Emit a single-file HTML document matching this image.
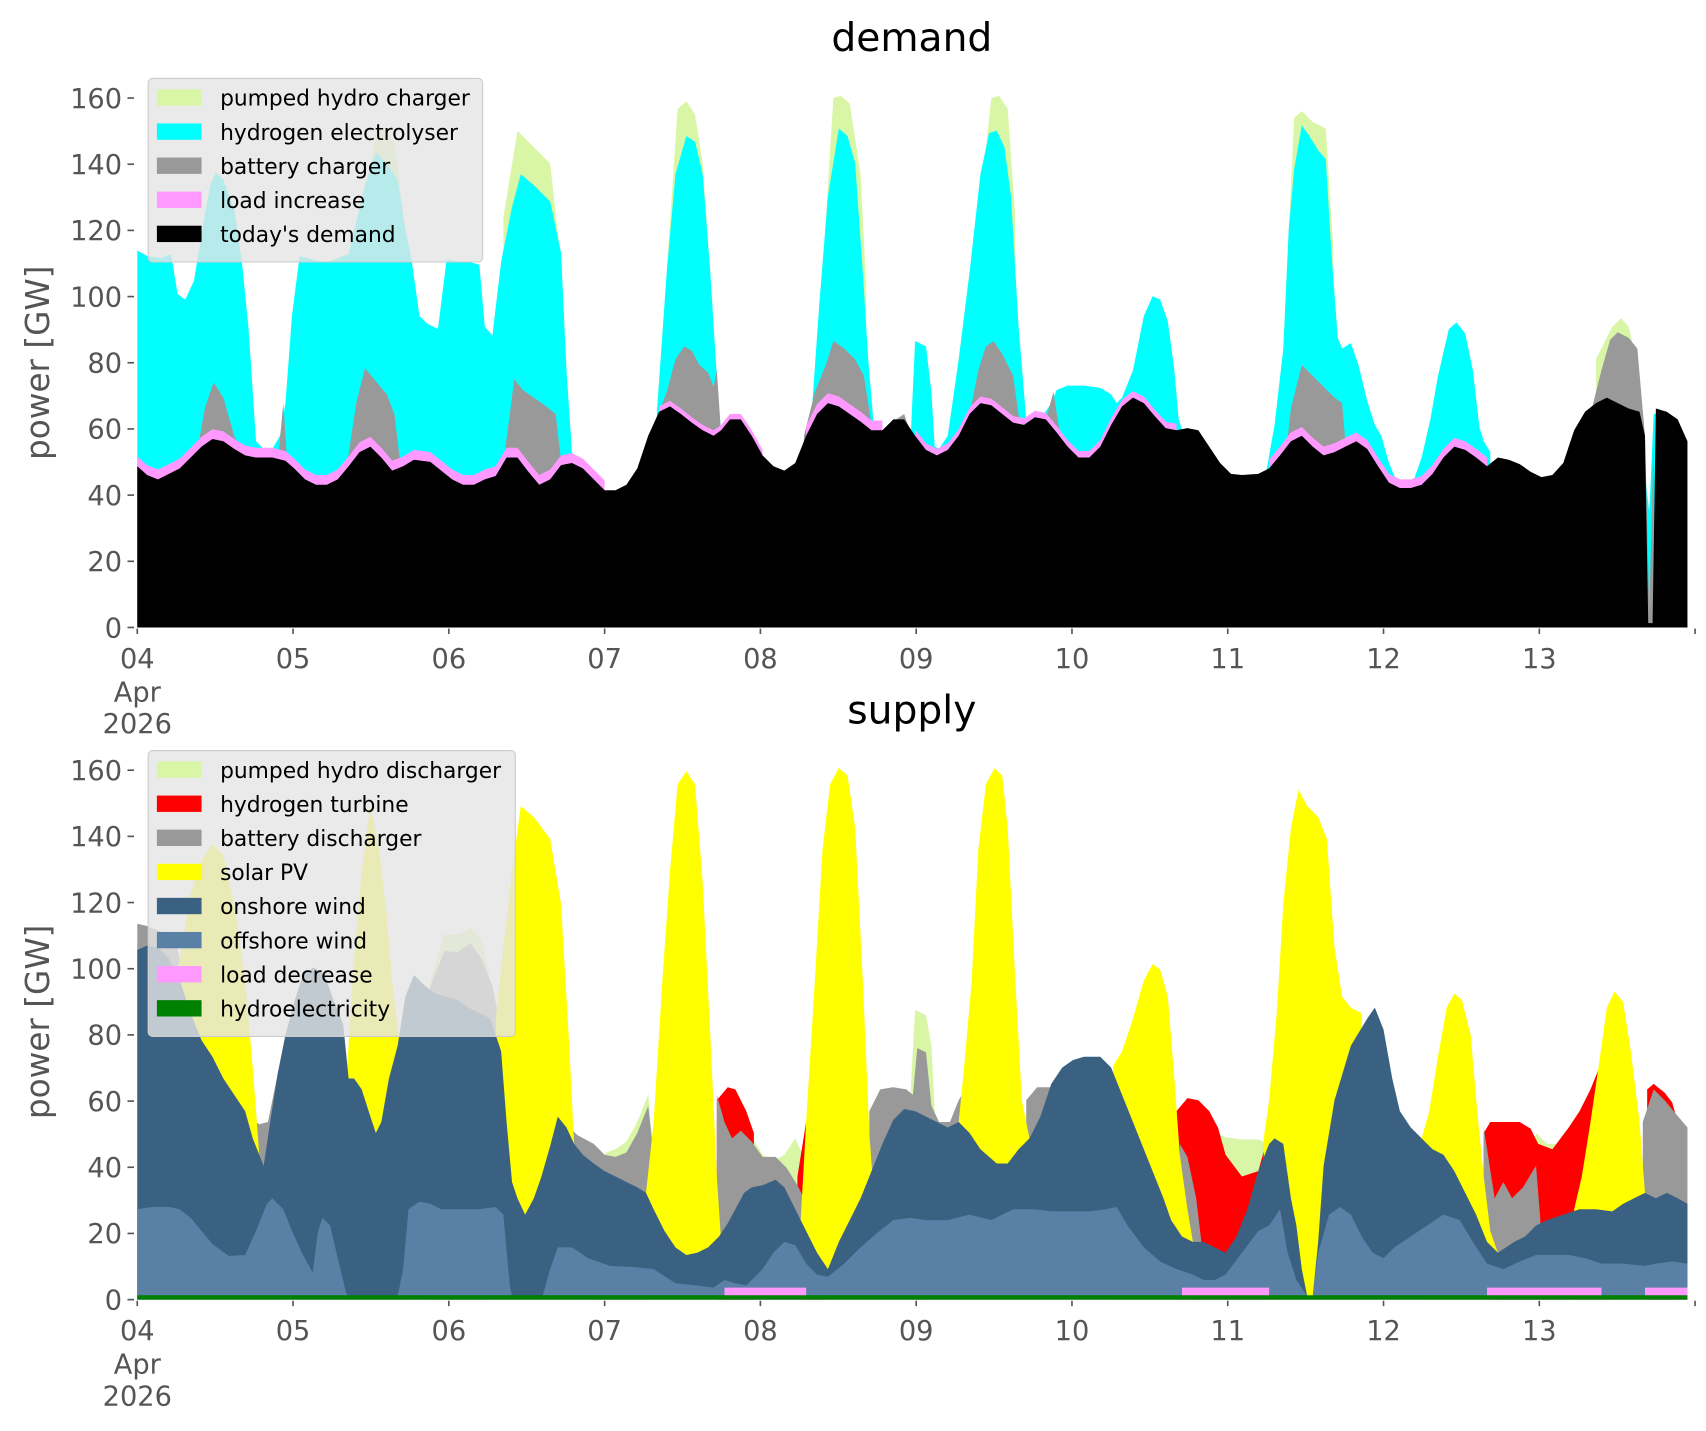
<!DOCTYPE html>
<html><head><meta charset="utf-8"><style>html,body{margin:0;padding:0;background:#fff}svg{display:block}</style></head>
<body>
<svg id="s" xmlns="http://www.w3.org/2000/svg" width="1706" height="1431" viewBox="0 0 1566 1313.6" font-family="DejaVu Sans, Liberation Sans, sans-serif">
<rect width="1566" height="1314" fill="#fff"/>
<g id="top"></g><g id="bot"></g>
<g id="axes" fill="#555" font-size="25"></g>
<text x="837" y="47" font-size="36" text-anchor="middle" fill="#000">demand</text>
<text x="837" y="664" font-size="36" text-anchor="middle" fill="#000">supply</text>
<text transform="translate(45,333) rotate(-90)" font-size="30" text-anchor="middle" fill="#555">power [GW]</text>
<text transform="translate(45,938) rotate(-90)" font-size="30" text-anchor="middle" fill="#555">power [GW]</text>
<g id="leg"></g>
</svg>
<script>
const NS="http://www.w3.org/2000/svg";
function poly(g,pts,base,fill){const p=document.createElementNS(NS,"polygon");
 const a=[[pts[0][0],base],...pts,[pts[pts.length-1][0],base]];
 p.setAttribute("points",a.map(q=>q[0]+","+q[1]).join(" "));p.setAttribute("fill",fill);g.appendChild(p);}
const T=document.getElementById("top"),B=document.getElementById("bot");
const TB=576,BB=1193;
const C={ph:"#d9f6a6",cy:"#00ffff",gr:"#999999",pk:"#ff99ff",bk:"#000",on:"#3b6182",off:"#5a80a5",ye:"#ffff00",rd:"#ff0000",gn:"#008000"};
// ---- TOP ----
const D=[[126,428],[135,436],[145,440],[155,435],[165,430],[175,420],[185,410],[195,403],[205,405],[215,412],[225,418],[235,420],[250,420],[262,423],[270,430],[280,440],[290,445],[300,445],[310,440],[320,428],[330,415],[340,410],[350,420],[360,432],[370,428],[380,422],[395,424],[405,432],[415,440],[425,445],[435,445],[445,440],[455,437],[465,420],[475,420],[485,433],[495,445],[505,440],[515,427],[525,425],[535,430],[545,440],[555,450],[565,450],[575,445],[585,430],[595,400],[605,378],[615,373],[625,380],[635,388],[645,395],[655,400],[662,395],[670,385],[680,385],[690,400],[700,418],[710,428],[720,432],[730,425],[740,400],[750,380],[760,370],[770,373],[780,380],[790,387],[800,395],[810,395],[820,385],[830,385],[840,400],[850,413],[860,418],[870,413],[880,400],[890,380],[900,370],[910,372],[920,380],[930,388],[940,390],[950,383],[960,385],[970,397],[980,410],[990,420],[1000,420],[1010,410],[1020,390],[1030,373],[1040,365],[1050,370],[1060,382],[1070,393],[1080,395],[1090,393],[1100,395],[1110,410],[1120,425],[1130,435],[1140,436],[1155,435],[1165,430],[1175,418],[1185,405],[1195,400],[1205,410],[1215,418],[1225,415],[1235,410],[1245,405],[1255,412],[1265,428],[1275,443],[1285,448],[1295,448],[1305,445],[1315,435],[1325,420],[1335,410],[1345,413],[1355,420],[1365,428],[1375,420],[1385,422],[1395,426],[1405,433],[1415,438],[1425,436],[1435,425],[1445,395],[1455,378],[1465,370],[1475,365],[1485,370],[1495,375],[1505,378],[1510,400],[1513,572],[1517,572],[1520,375],[1530,378],[1540,385],[1549,405]];
const PHt=[
[[612,250],[622,100],[630,93],[638,105],[645,150],[652,250]],
[[755,250],[765,90],[772,88],[780,95],[790,160],[795,260]],
[[898,200],[910,90],[917,88],[925,100],[932,200]],
[[1178,320],[1188,108],[1195,102],[1205,112],[1217,118],[1224,230]],
[[330,230],[345,120],[352,118],[362,130],[372,210]],
[[462,200],[475,120],[490,135],[505,150],[515,240]],
[[1465,330],[1480,300],[1488,292],[1495,300],[1502,330]]];
const CY=[
[[126,230],[135,235],[148,237],[157,233],[163,270],[170,275],[178,258],[185,215],[193,170],[198,158],[205,165],[215,192],[222,240],[228,300],[235,405],[242,412],[250,412],[257,400],[262,370],[268,290],[275,235],[290,239],[300,241],[320,233],[335,170],[345,140],[355,150],[365,165],[372,210],[378,240],[385,290],[392,297],[402,302],[410,238],[420,240],[430,240],[440,243],[445,300],[452,308],[460,240],[470,190],[478,160],[490,170],[505,185],[515,232],[520,340],[525,415],[530,425]],
[[603,378],[612,250],[620,160],[630,125],[638,130],[645,160],[652,250],[657,330],[662,400]],
[[745,380],[752,280],[760,180],[770,118],[778,125],[785,150],[792,250],[797,330],[802,390]],
[[836,400],[840,313],[850,318],[855,360],[858,410],[862,412],[870,400],[880,330],[890,250],[900,160],[908,122],[915,120],[922,135],[928,180],[935,300],[942,385]],
[[955,385],[965,370],[970,358],[980,354],[995,354],[1010,356],[1020,362],[1025,370],[1030,365],[1040,340],[1050,290],[1058,272],[1065,275],[1072,295],[1078,340],[1082,385],[1086,398]],
[[1162,435],[1170,390],[1178,320],[1183,210],[1188,155],[1195,115],[1202,125],[1210,138],[1217,146],[1222,230],[1228,310],[1232,320],[1240,315],[1247,335],[1255,368],[1262,390],[1268,400],[1275,425],[1280,437],[1290,445],[1298,440],[1305,420],[1313,385],[1320,345],[1330,302],[1337,296],[1345,306],[1352,340],[1358,392],[1362,405],[1368,415]],
[[1508,420],[1514,470],[1518,380],[1522,380]]];
const GRt=[
[[180,420],[188,375],[196,351],[205,365],[215,400],[225,420]],
[[255,425],[260,370],[264,430]],
[[318,430],[327,370],[335,338],[345,350],[355,362],[362,380],[368,430]],
[[462,425],[468,380],[472,348],[480,358],[490,365],[500,372],[510,380],[517,440]],
[[605,378],[612,360],[620,330],[628,318],[635,322],[642,335],[650,342],[655,355],[658,340],[662,400]],
[[738,400],[748,360],[758,335],[765,313],[775,320],[785,330],[793,345],[800,390]],
[[815,390],[830,380],[840,410]],
[[890,380],[898,340],[905,318],[912,313],[920,325],[930,345],[936,388]],
[[960,385],[967,360],[972,392]],
[[1180,420],[1185,375],[1195,335],[1205,345],[1215,355],[1225,365],[1232,370],[1237,430]],
[[1440,410],[1460,380],[1470,340],[1478,312],[1485,305],[1495,310],[1503,320],[1510,400]],
[[1510,400],[1514,560],[1518,400]]];
const pkR=[[126,560,9],[603,700,5],[735,812,9],[838,1085,6],[1160,1368,8]];
PHt.forEach(s=>poly(T,s,TB,C.ph));
CY.forEach(s=>poly(T,s,TB,C.cy));
GRt.forEach(s=>poly(T,s,TB,C.gr));
pkR.forEach(r=>{const s=D.filter(p=>p[0]>=r[0]&&p[0]<=r[1]).map(p=>[p[0],p[1]-r[2]]);poly(T,s,TB,C.pk);});
poly(T,D,TB,C.bk);
// ---- BOTTOM ----
const PHb=[
[[538,1060],[548,1082],[556,1058],[565,1055],[575,1048],[585,1030],[595,1005],[600,1060]],
[[688,1040],[700,1060],[710,1066],[720,1060],[730,1045],[737,1060]],
[[836,1000],[840,927],[850,932],[855,960],[858,1020]],
[[1118,1040],[1125,1044],[1140,1046],[1155,1046],[1165,1050]],
[[1410,1040],[1420,1050],[1432,1050],[1438,1040]],
[[395,900],[408,858],[420,858],[432,852],[442,862],[450,900]]];
const RD=[
[[658,1010],[668,998],[675,1000],[685,1020],[692,1040]],
[[732,1080],[740,1030],[746,1005],[756,988],[760,1060]],
[[1080,1020],[1090,1008],[1100,1010],[1110,1020],[1118,1035],[1125,1060],[1140,1080],[1155,1075],[1162,1050],[1165,1100]],
[[1362,1040],[1368,1030],[1380,1030],[1395,1030],[1405,1036],[1412,1050],[1425,1055],[1440,1035],[1450,1020],[1460,1000],[1468,980],[1475,970]],
[[1512,1000],[1518,995],[1528,1003],[1535,1012],[1540,1030]]];
const GRb=[
[[126,848],[135,850],[150,856],[160,858],[165,880]],
[[228,1025],[238,1032],[246,1030],[252,1000],[256,980]],
[[395,905],[408,873],[420,874],[432,866],[442,880],[452,905],[458,935]],
[[518,1030],[530,1042],[545,1050],[555,1060],[565,1062],[575,1058],[585,1040],[595,1015],[600,1060]],
[[658,1005],[665,1030],[672,1045],[680,1038],[690,1048],[700,1062],[712,1062],[722,1072],[732,1088],[738,1100]],
[[798,1020],[808,1000],[820,998],[832,1000],[838,1005],[842,962],[850,966],[855,1015],[862,1030],[872,1030],[880,1010],[886,1000]],
[[942,1010],[952,998],[965,998],[975,985]],
[[1083,1050],[1090,1062],[1098,1100],[1104,1150]],
[[1362,1035],[1372,1100],[1380,1085],[1388,1100],[1398,1090],[1410,1070],[1414,1120]],
[[1508,1030],[1518,1000],[1528,1010],[1538,1022],[1549,1035]]];
const YE=[
[[160,905],[165,880],[175,820],[185,790],[195,775],[205,785],[215,830],[225,900],[232,980],[238,1060],[242,1070]],
[[318,990],[325,880],[332,800],[340,740],[348,780],[355,840],[360,900],[367,960],[372,920]],
[[455,935],[462,870],[470,800],[478,740],[490,750],[505,770],[515,830],[522,950],[527,1050]],
[[593,1095],[600,1030],[608,900],[615,800],[622,720],[630,708],[638,720],[645,810],[652,950],[658,1080],[662,1140],[668,1123]],
[[735,1120],[740,1030],[748,900],[755,780],[762,720],[770,705],[778,712],[785,760],[792,900],[798,1040],[803,1110],[810,1050]],
[[880,1030],[885,980],[892,900],[898,780],[905,720],[913,705],[920,712],[925,760],[932,900],[938,1010],[945,1045]],
[[1022,978],[1030,965],[1040,935],[1050,900],[1058,885],[1065,890],[1072,915],[1078,990],[1083,1060],[1090,1110],[1095,1140]],
[[1160,1045],[1165,1010],[1172,930],[1178,830],[1185,760],[1192,725],[1200,740],[1210,750],[1218,770],[1225,870],[1232,915],[1240,925],[1250,930]],
[[1305,1045],[1312,1020],[1320,970],[1328,925],[1335,912],[1342,918],[1350,950],[1356,1020],[1362,1080],[1368,1130],[1375,1150]],
[[1445,1110],[1452,1080],[1460,1030],[1468,975],[1475,925],[1482,910],[1490,920],[1497,965],[1505,1030],[1510,1095]]];
const ON=[[126,872],[135,868],[145,870],[155,880],[165,900],[175,930],[185,955],[195,970],[205,990],[215,1005],[225,1020],[232,1045],[238,1060],[242,1070],[248,1030],[255,985],[262,950],[270,920],[278,895],[288,888],[298,895],[305,915],[315,940],[320,990],[325,990],[332,1000],[340,1025],[345,1040],[350,1030],[357,990],[365,960],[372,915],[380,895],[390,905],[400,912],[410,915],[420,918],[430,925],[440,930],[450,935],[460,965],[465,1030],[470,1085],[475,1100],[482,1115],[490,1100],[497,1080],[505,1052],[512,1025],[520,1035],[527,1050],[535,1060],[545,1068],[555,1075],[565,1080],[575,1085],[585,1090],[593,1095],[600,1110],[610,1130],[620,1145],[630,1152],[640,1150],[650,1145],[660,1135],[668,1123],[675,1110],[683,1095],[690,1090],[700,1088],[712,1083],[720,1090],[730,1110],[740,1130],[750,1150],[760,1165],[770,1140],[780,1120],[790,1100],[800,1075],[810,1050],[820,1028],[830,1018],[840,1020],[850,1025],[860,1030],[870,1035],[880,1030],[890,1040],[900,1055],[915,1068],[925,1068],[935,1055],[945,1045],[955,1025],[965,995],[975,980],[985,973],[995,970],[1010,970],[1020,980],[1030,1005],[1040,1030],[1050,1055],[1060,1080],[1068,1100],[1075,1120],[1085,1135],[1095,1140],[1105,1140],[1115,1145],[1125,1150],[1135,1135],[1145,1110],[1155,1075],[1165,1050],[1170,1045],[1178,1050],[1185,1100],[1190,1125],[1195,1165],[1200,1190],[1205,1190],[1210,1140],[1215,1070],[1225,1010],[1240,960],[1255,935],[1262,925],[1270,945],[1278,990],[1285,1020],[1295,1035],[1305,1045],[1315,1055],[1325,1060],[1335,1075],[1345,1095],[1355,1115],[1365,1140],[1375,1150],[1390,1140],[1400,1135],[1410,1125],[1420,1120],[1435,1115],[1450,1110],[1465,1110],[1480,1112],[1490,1105],[1500,1100],[1510,1095],[1520,1100],[1530,1095],[1540,1100],[1549,1105]];
const OF=[[126,1110],[140,1108],[155,1108],[165,1110],[175,1118],[185,1130],[195,1142],[210,1153],[225,1152],[235,1130],[245,1105],[250,1100],[260,1110],[268,1130],[278,1152],[287,1168],[292,1130],[296,1118],[303,1125],[310,1155],[318,1188],[322,1190],[365,1190],[370,1165],[375,1110],[385,1103],[395,1105],[405,1110],[420,1110],[440,1110],[455,1108],[462,1115],[468,1180],[470,1190],[498,1190],[505,1165],[512,1145],[525,1145],[540,1155],[560,1162],[580,1163],[600,1165],[620,1178],[640,1180],[655,1182],[665,1175],[675,1178],[685,1180],[700,1165],[710,1150],[720,1140],[730,1143],[740,1160],[750,1170],[760,1172],[775,1160],[790,1145],[805,1132],[820,1120],[835,1118],[850,1120],[870,1120],[890,1115],[910,1120],[930,1110],[950,1110],[965,1112],[980,1112],[1000,1112],[1015,1110],[1025,1108],[1035,1125],[1050,1145],[1065,1158],[1080,1165],[1095,1170],[1105,1175],[1115,1175],[1125,1170],[1140,1150],[1155,1130],[1165,1125],[1175,1110],[1182,1150],[1190,1175],[1200,1190],[1205,1190],[1210,1150],[1220,1115],[1230,1108],[1240,1115],[1250,1135],[1260,1150],[1270,1155],[1280,1145],[1295,1135],[1310,1125],[1325,1115],[1340,1120],[1352,1140],[1365,1160],[1380,1165],[1395,1158],[1410,1152],[1425,1152],[1440,1152],[1455,1155],[1470,1160],[1490,1160],[1510,1162],[1520,1160],[1535,1158],[1549,1160]];
PHb.forEach(s=>poly(B,s,BB,C.ph));
RD.forEach(s=>poly(B,s,BB,C.rd));
GRb.forEach(s=>poly(B,s,BB,C.gr));
YE.forEach(s=>poly(B,s,BB,C.ye));
poly(B,ON,BB,C.on);poly(B,OF,BB,C.off);
[[665,740],[1085,1165],[1365,1470],[1510,1549]].forEach(r=>poly(B,[[r[0],1182],[r[1],1182]],BB,C.pk));
poly(B,[[126,1189],[1549,1189]],BB,C.gn);
// ---- AXES ----
const A=document.getElementById("axes");
function el(tag,at,txt){const e=document.createElementNS(NS,tag);for(const k in at)e.setAttribute(k,at[k]);if(txt!==undefined)e.textContent=txt;A.appendChild(e);return e;}
[TB,BB].forEach(b=>{
 for(let v=0;v<=160;v+=20){const y=b-v*3.0375;el("line",{x1:117,x2:123,y1:y,y2:y,stroke:"#555","stroke-width":1.5});el("text",{x:112,y:y+9,"text-anchor":"end"},String(v));}
 for(let d=0;d<=10;d++){const x=126+143*d;el("line",{x1:x,x2:x,y1:b+1,y2:b+6,stroke:"#555","stroke-width":1.5});
  if(d<10)el("text",{x:x,y:b+37,"text-anchor":"middle"},String(d+4).padStart(2,"0"));}
 el("text",{x:126,y:b+68,"text-anchor":"middle"},"Apr");el("text",{x:126,y:b+97,"text-anchor":"middle"},"2026");
});
// ---- LEGENDS ----
const L=document.getElementById("leg");
function legend(x,y,w,items){const r=document.createElementNS(NS,"rect");
 Object.entries({x:x,y:y,width:w,height:items.length*31.3+12,rx:4,fill:"#e5e5e5","fill-opacity":0.8,stroke:"#ccc"}).forEach(([k,v])=>r.setAttribute(k,v));L.appendChild(r);
 items.forEach((it,i)=>{const cy=y+18+i*31.3;const s=document.createElementNS(NS,"rect");
  Object.entries({x:x+8,y:cy-8,width:41,height:15,fill:it[1]}).forEach(([k,v])=>s.setAttribute(k,v));L.appendChild(s);
  const t=document.createElementNS(NS,"text");t.setAttribute("x",x+66);t.setAttribute("y",cy+7);t.setAttribute("font-size",20);t.setAttribute("fill","#000");t.textContent=it[0];L.appendChild(t);});}
legend(136,72,307,[["pumped hydro charger",C.ph],["hydrogen electrolyser",C.cy],["battery charger",C.gr],["load increase",C.pk],["today's demand",C.bk]]);
legend(136,689,337,[["pumped hydro discharger",C.ph],["hydrogen turbine",C.rd],["battery discharger",C.gr],["solar PV",C.ye],["onshore wind",C.on],["offshore wind",C.off],["load decrease",C.pk],["hydroelectricity",C.gn]]);
</script>
</body></html>
